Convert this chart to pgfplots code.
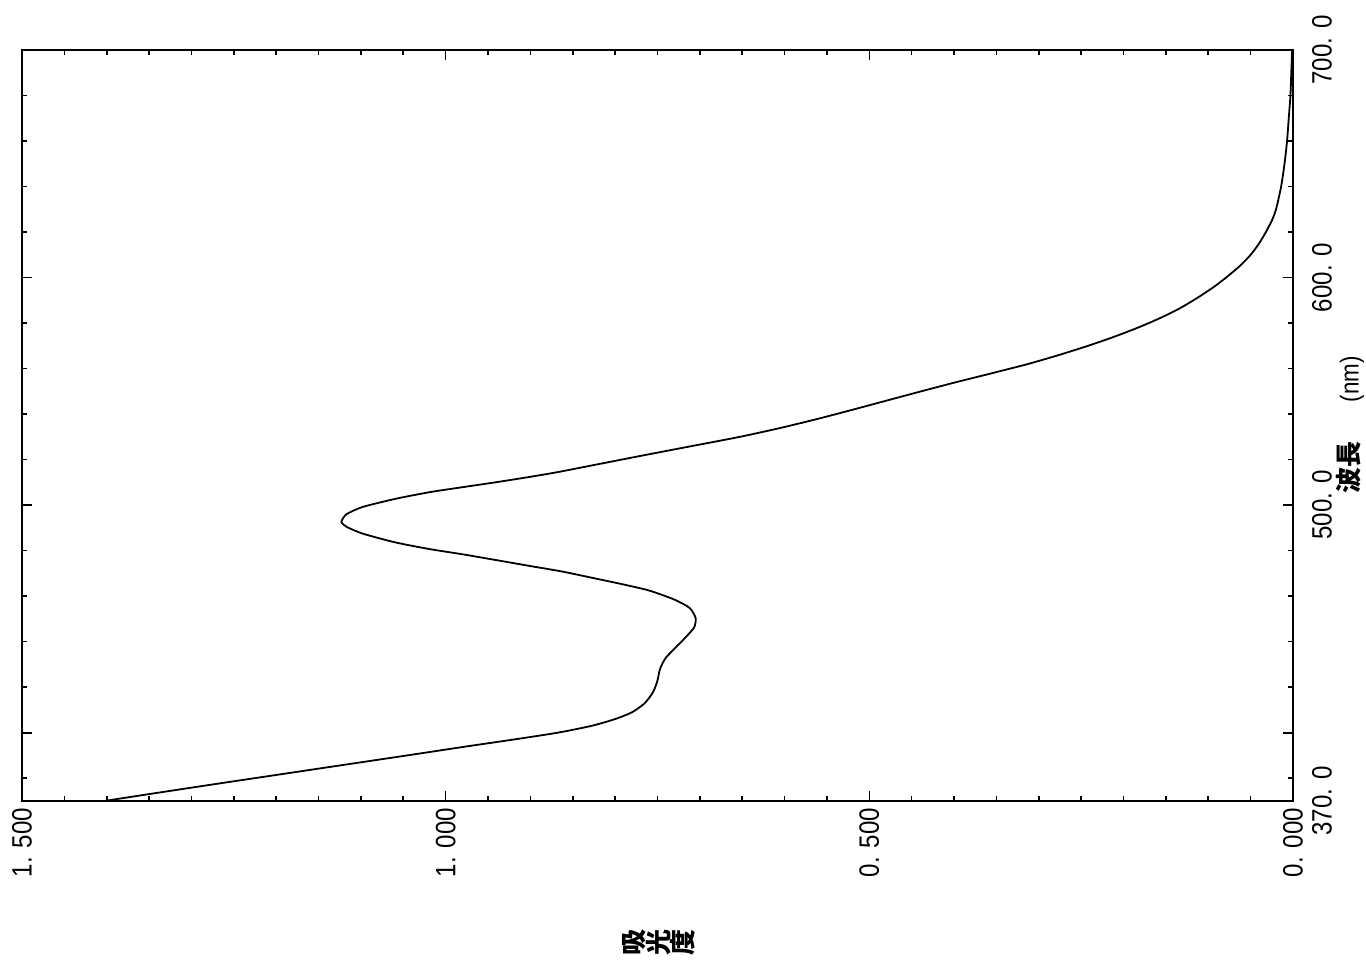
\documentclass[border=0pt]{standalone}
\usepackage{fontspec}
\setmainfont{Liberation Sans}[FakeStretch=0.86]
\newfontfamily\cjk{Noto Sans CJK JP}
\usepackage{graphicx}
\usepackage{pgfplots}
\pgfplotsset{compat=1.18}
\pgfplotstableread{
A      wl
1.403  370.0
1.333  374.0
1.262  378.0
1.190  382.0
1.118  386.0
1.046  390.0
0.975  394.0
0.920  397.0
0.868  400.0
0.828  403.0
0.800  406.0
0.780  409.0
0.765  413.0
0.755  418.0
0.750  423.0
0.747  428.0
0.740  433.0
0.721  440.3
0.707  446.1
0.705  450.4
0.712  454.8
0.730  458.5
0.760  462.5
0.792  465.3
0.825  467.9
0.862  470.8
0.901  473.3
0.941  475.9
0.980  478.4
1.019  480.7
1.059  483.6
1.098  487.5
1.117  490.5
1.123  492.7
1.117  496.0
1.098  499.2
1.059  502.8
1.019  505.7
0.980  507.9
0.940  510.1
0.901  512.4
0.868  514.5
0.820  518.0
0.765  522.0
0.709  526.0
0.653  530.0
0.604  534.0
0.560  538.0
0.519  542.0
0.479  546.0
0.439  550.0
0.398  554.0
0.355  558.0
0.313  562.0
0.276  566.0
0.242  570.0
0.211  574.0
0.183  578.0
0.158  582.0
0.136  586.0
0.122  589.0
0.109  592.0
0.093  596.0
0.079  600.0
0.063  605.0
0.050  610.0
0.040  615.0
0.032  620.0
0.025  625.0
0.020  630.0
0.014  640.0
0.010  650.0
0.007  660.0
0.005  670.0
0.003  680.0
0.002  690.0
0.001  700.0
}\spectrum
\begin{document}
\begin{tikzpicture}
\useasboundingbox (-11pt,-79pt) rectangle (672pt,400.5pt);
\begin{axis}[
  at={(0,0)}, anchor=south west,
  scale only axis, width=635.5pt, height=375.5pt,
  x dir=reverse,
  xmin=0, xmax=1.5, ymin=370, ymax=700,
  axis line style={line width=1.3pt},
  tick align=inside,
  xtick pos=both, xticklabel pos=bottom,
  ytick pos=both, yticklabel pos=right,
  major tick length=5pt, minor tick length=2.5pt,
  every tick/.style={black, line width=0.8pt},
  xtick={0,0.5,1,1.5},
  xticklabels={0. 000,0. 500,1. 000,1. 500},
  minor x tick num=9,
  ytick={370,400,500,600,700},
  yticklabels={370. 0,,500. 0,600. 0,700. 0},
  minor ytick={380,420,440,460,480,520,540,560,580,620,640,660,680},
  xticklabel style={font=\fontsize{14}{14}\selectfont, rotate=90, anchor=east},
  yticklabel style={font=\fontsize{14}{14}\selectfont, xshift=6pt, rotate=90, anchor=north},
  xlabel={\cjk\bfseries\rotatebox{90}{吸}\rotatebox{90}{光}\rotatebox{90}{度}},
  ylabel={{\cjk\bfseries 波長}\hspace{1.5em}(nm)},
  every axis x label/.style={at={(axis description cs:0.501,-0.188)}, anchor=center, font=\fontsize{13}{13}\selectfont},
  every axis y label/.style={at={(axis description cs:1.045,0.501)}, anchor=center, rotate=90, font=\fontsize{13}{13}\selectfont},
]
\addplot[black, line width=0.9pt, smooth, tension=0.4] table[x=A, y=wl] {\spectrum};
\end{axis}
\end{tikzpicture}
\end{document}
